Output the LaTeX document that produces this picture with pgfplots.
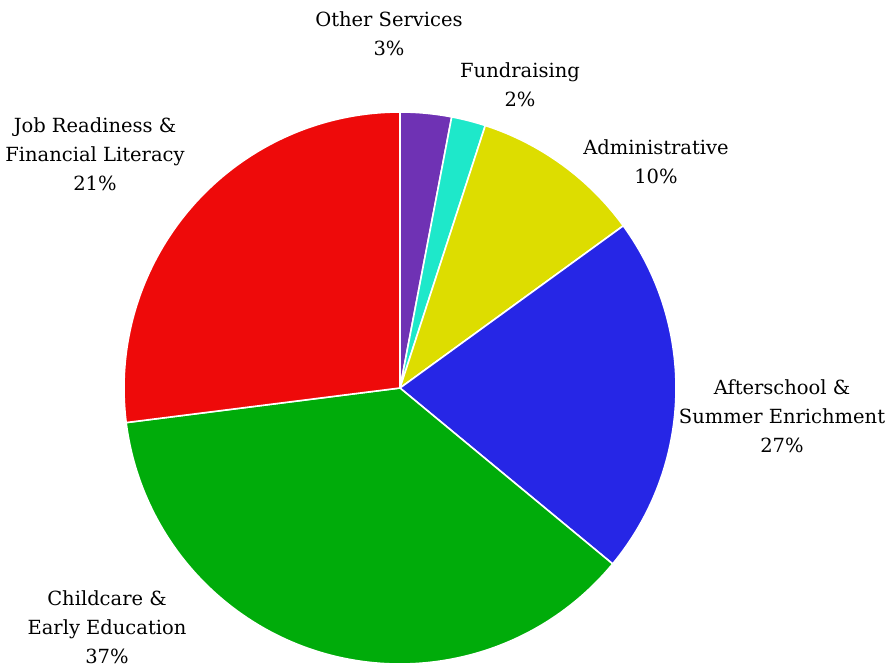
\documentclass[border=0pt]{standalone}
\usepackage{fontspec}
\setmainfont{DejaVu Serif}
\usepackage{pgfplots}
\pgfplotsset{compat=1.18}

\definecolor{othc}{HTML}{6F32B4}
\definecolor{fundc}{HTML}{1EE8CA}
\definecolor{admc}{HTML}{DDDD00}
\definecolor{aftc}{HTML}{2626E6}
\definecolor{chic}{HTML}{00AC0A}
\definecolor{jobc}{HTML}{EE0A0A}

\begin{document}
\begin{tikzpicture}
\begin{axis}[
  width=889pt, height=669pt, scale only axis,
  xmin=0, xmax=889, ymin=0, ymax=669, y dir=reverse,
  hide axis, clip=false,
]
% slice sizes as drawn (percent), clockwise from the top
\def\R{276pt}
\tikzset{slice/.style={draw=white, line width=1.6pt, line join=round}}
\filldraw[slice, fill=othc]  (axis cs:400,388) -- ++(90:\R)     arc[start angle=90,     delta angle=-3*3.6,  radius=\R] -- cycle;
\filldraw[slice, fill=fundc] (axis cs:400,388) -- ++(79.2:\R)   arc[start angle=79.2,   delta angle=-2*3.6,  radius=\R] -- cycle;
\filldraw[slice, fill=admc]  (axis cs:400,388) -- ++(72:\R)     arc[start angle=72,     delta angle=-10*3.6, radius=\R] -- cycle;
\filldraw[slice, fill=aftc]  (axis cs:400,388) -- ++(36:\R)     arc[start angle=36,     delta angle=-21*3.6, radius=\R] -- cycle;
\filldraw[slice, fill=chic]  (axis cs:400,388) -- ++(-39.6:\R)  arc[start angle=-39.6,  delta angle=-37*3.6, radius=\R] -- cycle;
\filldraw[slice, fill=jobc]  (axis cs:400,388) -- ++(-172.8:\R) arc[start angle=-172.8, delta angle=-27*3.6, radius=\R] -- cycle;

\tikzset{lab/.style={align=center, inner sep=0pt, font=\fontsize{19.5}{28.8}\selectfont}}
\node[lab] at (axis cs:389,34)  {Other Services\\3\%};
\node[lab] at (axis cs:520,85)  {Fundraising\\2\%};
\node[lab] at (axis cs:656,162) {Administrative\\10\%};
\node[lab] at (axis cs:782,416) {Afterschool \&\\Summer Enrichment\\27\%};
\node[lab] at (axis cs:95,154)  {Job Readiness \&\\Financial Literacy\\21\%};
\node[lab] at (axis cs:107,627) {Childcare \&\\Early Education\\37\%};
\end{axis}
\pgfresetboundingbox
\path (0,0) rectangle (889pt,669pt);
\end{tikzpicture}
\end{document}
